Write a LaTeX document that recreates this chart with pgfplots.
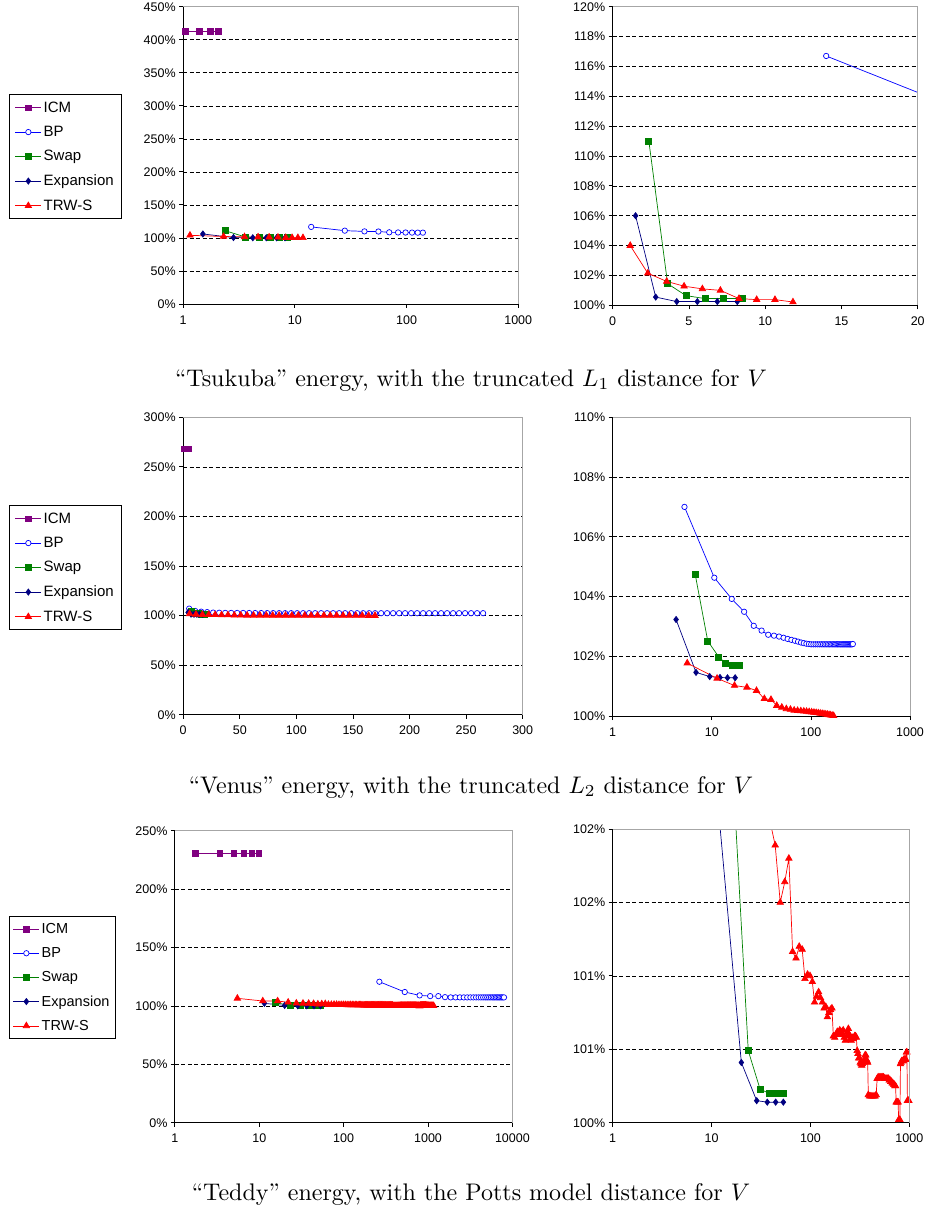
\documentclass[border=0pt]{standalone}
\usepackage{fontspec}
\usepackage{graphicx}
\usepackage{pgfplots}
\pgfplotsset{compat=1.18}
\newfontfamily\arialfont{Liberation Sans}
\definecolor{icmc}{RGB}{128,0,128}
\definecolor{bpc}{RGB}{0,0,255}
\definecolor{swapc}{RGB}{0,128,0}
\definecolor{expc}{RGB}{0,0,128}
\definecolor{trwc}{RGB}{255,0,0}
\newcommand{\tickfont}{\arialfont\fontsize{12.5bp}{14bp}\selectfont}
\pgfplotsset{
  base/.style={
    scale only axis, anchor=north west,
    axis x line*=bottom, axis y line*=left,
    axis line style={black, line width=0.8bp, -},
    tick align=outside, major tick length=4bp,
    tick style={black, line width=0.8bp},
    ymajorgrids,
    major grid style={black, dash pattern=on 4bp off 2.5bp, line width=0.6bp},
    tick label style={font=\tickfont},
    xticklabel style={yshift=-4bp},
    /pgf/number format/assume math mode=true,
    yticklabel={\pgfmathprintnumber{\tick}\%},
    xminorticks=false, yminorticks=false,
    legend cell align=left,
    legend image code/.code={\draw[mark repeat=2,mark phase=2] plot coordinates {(0bp,0bp) (13bp,0bp) (26bp,0bp)};},
  },
  leg/.style={legend style={at={#1}, anchor=north west, draw=black, line width=0.8bp,
     font=\arialfont\fontsize{15bp}{17bp}\selectfont, row sep=8.5bp, inner xsep=6bp, inner ysep=5bp,
     /tikz/every even column/.append style={column sep=5bp}}},
  icm/.style={icmc, line width=0.7bp, mark=square*, mark size=2.8bp, mark options={solid}},
  bp/.style={bpc, line width=0.7bp, mark=*, mark size=2.7bp, mark options={solid, fill=white}},
  swap/.style={swapc, line width=0.7bp, mark=square*, mark size=3bp, mark options={solid}},
  expn/.style={expc, line width=0.7bp, mark=diamond*, mark size=3.1bp, mark options={solid}},
  trw/.style={trwc, line width=0.7bp, mark=triangle*, mark size=3.7bp, mark options={solid}},
}
\begin{document}
\begin{tikzpicture}
\path[use as bounding box] (0,0) rectangle (926bp,-1211bp);

% ---------- Tsukuba left
\begin{axis}[base, name=p1, at={(183.2bp,-6.7bp)}, width=335bp, height=297.3bp,
  xmode=log, xmin=1, xmax=1000, xtick={1,10,100,1000}, xticklabels={1,10,100,1000},
  ymin=0, ymax=450, ytick={0,50,...,450}, leg={(-0.5212,0.7053)}]
\addplot[icm] coordinates {(1.04,413) (1.39,413) (1.75,413) (2.06,413)};
\addplot[bp] coordinates {(14,116.7) (28,111.0) (42,109.9) (56,109.7) (70,108.5) (84,108.3) (98,108.2) (112,108.1) (126,108.0) (140,108.0)};
\addplot[swap] coordinates {(2.37,111.0) (3.6,101.45) (4.8,100.65) (6.05,100.45) (7.25,100.45) (8.5,100.45)};
\addplot[expn] coordinates {(1.5,106.0) (2.82,100.55) (4.2,100.25) (5.55,100.25) (6.86,100.25) (8.17,100.25)};
\addplot[trw] coordinates {(1.15,104.0) (2.3,102.15) (3.54,101.6) (4.68,101.28) (5.88,101.1) (7.06,101.0) (8.28,100.45) (9.44,100.38) (10.64,100.38) (11.82,100.22)};
\legend{ICM,BP,Swap,Expansion,TRW-S}
\end{axis}
\draw[gray!70, line width=0.8bp] (p1.north west) -- (p1.north east) -- (p1.south east);

% ---------- Tsukuba right
\begin{axis}[base, name=p2, at={(612.7bp,-6.7bp)}, width=305bp, height=298.6bp,
  xmin=0, xmax=20, xtick={0,5,...,20},
  ymin=100, ymax=120, ytick={100,102,...,120}]
\addplot[bp] coordinates {(14,116.7) (28,111.0) (42,109.9)};
\addplot[swap] coordinates {(2.37,111.0) (3.6,101.45) (4.8,100.65) (6.05,100.45) (7.25,100.45) (8.5,100.45)};
\addplot[expn] coordinates {(1.5,106.0) (2.82,100.55) (4.2,100.25) (5.55,100.25) (6.86,100.25) (8.17,100.25)};
\addplot[trw] coordinates {(1.15,104.0) (2.3,102.15) (3.54,101.6) (4.68,101.28) (5.88,101.1) (7.06,101.0) (8.28,100.45) (9.44,100.38) (10.64,100.38) (11.82,100.22)};
\end{axis}
\draw[gray!70, line width=0.8bp] (p2.north west) -- (p2.north east) -- (p2.south east);

\node[anchor=base] at (471bp,-386bp) {\scalebox{2.41}{“Tsukuba” energy, with the truncated $L_1$ distance for $V$}};

% ---------- Venus left
\begin{axis}[base, name=p3, at={(183.2bp,-417.3bp)}, width=339.5bp, height=297.4bp,
  xmin=0, xmax=300, xtick={0,50,...,300},
  ymin=0, ymax=300, ytick={0,50,...,300}, leg={(-0.5143,0.7041)}]
\addplot[icm] coordinates {(1.0,268) (4.6,268)};
\addplot[bp] coordinates {(5.3,107.0) (10.6,104.63) (15.9,103.92) (21.2,103.49) (26.5,103.02) (31.8,102.86) (37.1,102.72) (42.4,102.69) (47.7,102.66) (53,102.62) (58.3,102.58) (63.6,102.55) (68.9,102.52) (74.2,102.49) (79.5,102.46) (84.8,102.44) (90.1,102.42) (95.4,102.41) (100.7,102.40) (106,102.40) (111.3,102.40) (116.6,102.40) (121.9,102.40) (127.2,102.40) (132.5,102.40) (137.8,102.40) (143.1,102.40) (148.4,102.40) (153.7,102.40) (159,102.40) (164.3,102.40) (169.6,102.40) (174.9,102.40) (180.2,102.40) (185.5,102.40) (190.8,102.40) (196.1,102.40) (201.4,102.40) (206.7,102.40) (212,102.40) (217.3,102.40) (222.6,102.40) (227.9,102.40) (233.2,102.40) (238.5,102.40) (243.8,102.40) (249.1,102.40) (254.4,102.40) (259.7,102.40) (265,102.41)};
\addplot[swap] coordinates {(6.8,104.74) (9.1,102.51) (11.75,101.98) (13.8,101.76) (16.1,101.70) (18.8,101.70)};
\addplot[expn] coordinates {(4.36,103.23) (6.93,101.46) (9.53,101.32) (12.1,101.29) (14.4,101.28) (17.2,101.28)};
\addplot[trw] coordinates {(5.65,101.77) (11.3,101.26) (16.95,101.02) (22.6,100.96) (28.25,100.85) (33.9,100.58) (39.55,100.55) (45.2,100.35) (50.85,100.29) (56.5,100.24) (62.15,100.22) (67.8,100.19) (73.45,100.18) (79.1,100.17) (84.75,100.16) (90.4,100.15) (96.05,100.14) (101.7,100.13) (107.35,100.12) (113,100.11) (118.65,100.10) (124.3,100.09) (129.95,100.08) (135.6,100.07) (141.25,100.06) (146.9,100.05) (152.55,100.04) (158.2,100.03) (163.85,100.02) (169.5,100.01)};
\legend{ICM,BP,Swap,Expansion,TRW-S}
\end{axis}
\draw[gray!70, line width=0.8bp] (p3.north west) -- (p3.north east) -- (p3.south east);

% ---------- Venus right
\begin{axis}[base, name=p4, at={(612.7bp,-417.3bp)}, width=297.3bp, height=298.7bp,
  xmode=log, xmin=1, xmax=1000, xtick={1,10,100,1000}, xticklabels={1,10,100,1000},
  ymin=100, ymax=110, ytick={100,102,...,110}]
\addplot[bp] coordinates {(5.3,107.0) (10.6,104.63) (15.9,103.92) (21.2,103.49) (26.5,103.02) (31.8,102.86) (37.1,102.72) (42.4,102.69) (47.7,102.66) (53,102.62) (58.3,102.58) (63.6,102.55) (68.9,102.52) (74.2,102.49) (79.5,102.46) (84.8,102.44) (90.1,102.42) (95.4,102.41) (100.7,102.40) (106,102.40) (111.3,102.40) (116.6,102.40) (121.9,102.40) (127.2,102.40) (132.5,102.40) (137.8,102.40) (143.1,102.40) (148.4,102.40) (153.7,102.40) (159,102.40) (164.3,102.40) (169.6,102.40) (174.9,102.40) (180.2,102.40) (185.5,102.40) (190.8,102.40) (196.1,102.40) (201.4,102.40) (206.7,102.40) (212,102.40) (217.3,102.40) (222.6,102.40) (227.9,102.40) (233.2,102.40) (238.5,102.40) (243.8,102.40) (249.1,102.40) (254.4,102.40) (259.7,102.40) (265,102.41)};
\addplot[swap] coordinates {(6.8,104.74) (9.1,102.51) (11.75,101.98) (13.8,101.76) (16.1,101.70) (18.8,101.70)};
\addplot[expn] coordinates {(4.36,103.23) (6.93,101.46) (9.53,101.32) (12.1,101.29) (14.4,101.28) (17.2,101.28)};
\addplot[trw] coordinates {(5.65,101.77) (11.3,101.26) (16.95,101.02) (22.6,100.96) (28.25,100.85) (33.9,100.58) (39.55,100.55) (45.2,100.35) (50.85,100.29) (56.5,100.24) (62.15,100.22) (67.8,100.19) (73.45,100.18) (79.1,100.17) (84.75,100.16) (90.4,100.15) (96.05,100.14) (101.7,100.13) (107.35,100.12) (113,100.11) (118.65,100.10) (124.3,100.09) (129.95,100.08) (135.6,100.07) (141.25,100.06) (146.9,100.05) (152.55,100.04) (158.2,100.03) (163.85,100.02) (169.5,100.01)};
\end{axis}
\draw[gray!70, line width=0.8bp] (p4.north west) -- (p4.north east) -- (p4.south east);

\node[anchor=base] at (471bp,-793bp) {\scalebox{2.41}{“Venus” energy, with the truncated $L_2$ distance for $V$}};

% ---------- Teddy left
\begin{axis}[base, name=p5, at={(174.9bp,-830.7bp)}, width=337.5bp, height=292bp,
  xmode=log, xmin=1, xmax=10000, xtick={1,10,100,1000,10000}, xticklabels={1,10,100,1000,10000},
  ymin=0, ymax=250, ytick={0,50,...,250}, leg={(-0.4927,0.7079)},
  legend style={font=\arialfont\fontsize{14.5bp}{17bp}\selectfont, inner xsep=4bp}]
\addplot[icm] coordinates {(1.75,230.5) (3.4,230.5) (5.0,230.5) (6.6,230.5) (8.2,230.5) (9.9,230.5)};
\addplot[bp] coordinates {(265,120.7) (530,111.9) (795,109.0) (1060,108.4) (1325,108.4) (1590,107.5) (1855,107.3) (2120,107.3) (2385,107.3) (2650,107.3) (2915,107.3) (3180,107.3) (3445,107.3) (3710,107.3) (3975,107.3) (4240,107.3) (4505,107.3) (4770,107.3) (5035,107.3) (5300,107.3) (5565,107.3) (5830,107.3) (6095,107.3) (6360,107.3) (6625,107.3) (6890,107.3) (7155,107.3) (7420,107.3) (7685,107.3) (7950,107.3)};
\addplot[swap] coordinates {(15.4,102.73) (23.5,100.49) (30.9,100.23) (38.0,100.20) (45.2,100.20) (53.6,100.20)};
\addplot[expn] coordinates {(11.5,102.2) (20.0,100.41) (28.6,100.15) (36.6,100.14) (44.5,100.14) (53.2,100.14)};
\addplot[trw] coordinates {(5.5,106.5) (11,104.2) (16.5,104.2) (22,103.1) (27.5,102.3) (33,102.2) (38.5,102.07) (44,101.89) (49.5,101.50) (55,101.64) (60.5,101.80) (66,101.165) (71.5,101.12) (77,101.20) (82.5,101.18) (88,100.98) (93.5,101.01) (99,101.00) (104.5,100.96) (110,100.82) (115.5,100.86) (121,100.89) (126.5,100.85) (132,100.82) (137.5,100.78) (143,100.79) (148.5,100.72) (154,100.75) (159.5,100.77) (165,100.78) (170.5,100.59) (176,100.58) (181.5,100.60) (187,100.62) (192.5,100.61) (198,100.63) (203.5,100.62) (209,100.60) (214.5,100.63) (220,100.58) (225.5,100.56) (231,100.59) (236.5,100.62) (242,100.64) (247.5,100.60) (253,100.57) (258.5,100.56) (264,100.58) (269.5,100.57) (275,100.58) (280.5,100.59) (286,100.59) (291.5,100.58) (297,100.49) (302.5,100.47) (308,100.44) (313.5,100.44) (319,100.41) (324.5,100.40) (330,100.39) (335.5,100.40) (341,100.41) (346.5,100.42) (352,100.43) (357.5,100.46) (363,100.46) (368.5,100.43) (374,100.42) (379.5,100.41) (385,100.19) (396,100.18) (407,100.18) (418,100.18) (429,100.18) (440,100.18) (451,100.18) (462,100.19) (473,100.30) (484,100.31) (495,100.31) (506,100.31) (517,100.31) (528,100.31) (539,100.31) (550,100.31) (561,100.30) (572,100.30) (583,100.30) (594,100.30) (605,100.30) (616,100.30) (627,100.29) (638,100.29) (649,100.28) (660,100.28) (671,100.27) (682,100.27) (693,100.26) (704,100.26) (715,100.25) (726,100.25) (737,100.14) (748,100.14) (759,100.14) (770,100.14) (781,100.02) (792,100.02) (803,100.02) (814,100.40) (825,100.41) (836,100.42) (847,100.42) (858,100.42) (869,100.42) (880,100.43) (891,100.43) (902,100.43) (913,100.43) (924,100.43) (935,100.48) (946,100.48) (957,100.15) (968,100.15) (979,100.15) (990,100.15) (1001,100.14) (1012,100.14) (1034,100.14) (1056,100.14) (1078,100.14) (1100,100.14) (1122,100.14) (1144,100.14) (1166,100.14)};
\legend{ICM,BP,Swap,Expansion,TRW-S}
\end{axis}
\draw[gray!70, line width=0.8bp] (p5.north west) -- (p5.north east) -- (p5.south east);

% ---------- Teddy right
\begin{axis}[base, name=p6, at={(612.7bp,-829bp)}, width=296.6bp, height=293.7bp,
  xmode=log, xmin=1, xmax=1000, xtick={1,10,100,1000}, xticklabels={1,10,100,1000},
  ymin=100, ymax=102, ytick={100,100.5,101,101.5,102}, yticklabels={100\%,101\%,101\%,102\%,102\%}]
\addplot[swap] coordinates {(15.4,102.73) (23.5,100.49) (30.9,100.23) (38.0,100.20) (45.2,100.20) (53.6,100.20)};
\addplot[expn] coordinates {(11.5,102.2) (20.0,100.41) (28.6,100.15) (36.6,100.14) (44.5,100.14) (53.2,100.14)};
\addplot[trw] coordinates {(5.5,106.5) (11,104.2) (16.5,104.2) (22,103.1) (27.5,102.3) (33,102.2) (38.5,102.07) (44,101.89) (49.5,101.50) (55,101.64) (60.5,101.80) (66,101.165) (71.5,101.12) (77,101.20) (82.5,101.18) (88,100.98) (93.5,101.01) (99,101.00) (104.5,100.96) (110,100.82) (115.5,100.86) (121,100.89) (126.5,100.85) (132,100.82) (137.5,100.78) (143,100.79) (148.5,100.72) (154,100.75) (159.5,100.77) (165,100.78) (170.5,100.59) (176,100.58) (181.5,100.60) (187,100.62) (192.5,100.61) (198,100.63) (203.5,100.62) (209,100.60) (214.5,100.63) (220,100.58) (225.5,100.56) (231,100.59) (236.5,100.62) (242,100.64) (247.5,100.60) (253,100.57) (258.5,100.56) (264,100.58) (269.5,100.57) (275,100.58) (280.5,100.59) (286,100.59) (291.5,100.58) (297,100.49) (302.5,100.47) (308,100.44) (313.5,100.44) (319,100.41) (324.5,100.40) (330,100.39) (335.5,100.40) (341,100.41) (346.5,100.42) (352,100.43) (357.5,100.46) (363,100.46) (368.5,100.43) (374,100.42) (379.5,100.41) (385,100.19) (396,100.18) (407,100.18) (418,100.18) (429,100.18) (440,100.18) (451,100.18) (462,100.19) (473,100.30) (484,100.31) (495,100.31) (506,100.31) (517,100.31) (528,100.31) (539,100.31) (550,100.31) (561,100.30) (572,100.30) (583,100.30) (594,100.30) (605,100.30) (616,100.30) (627,100.29) (638,100.29) (649,100.28) (660,100.28) (671,100.27) (682,100.27) (693,100.26) (704,100.26) (715,100.25) (726,100.25) (737,100.14) (748,100.14) (759,100.14) (770,100.14) (781,100.02) (792,100.02) (803,100.02) (814,100.40) (825,100.41) (836,100.42) (847,100.42) (858,100.42) (869,100.42) (880,100.43) (891,100.43) (902,100.43) (913,100.43) (924,100.43) (935,100.48) (946,100.48) (957,100.15) (968,100.15) (979,100.15) (990,100.15) (1001,100.14) (1012,100.14) (1034,100.14) (1056,100.14) (1078,100.14) (1100,100.14) (1122,100.14) (1144,100.14) (1166,100.14)};
\end{axis}
\draw[gray!70, line width=0.8bp] (p6.north west) -- (p6.north east) -- (p6.south east);

\node[anchor=base] at (471bp,-1200bp) {\scalebox{2.41}{“Teddy” energy, with the Potts model distance for $V$}};
\end{tikzpicture}
\end{document}
